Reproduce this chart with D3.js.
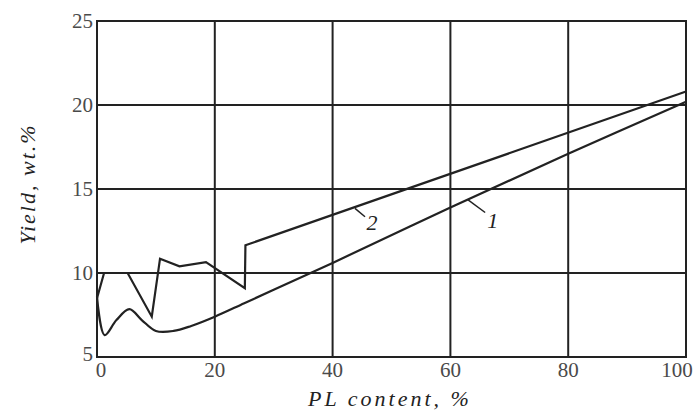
<!DOCTYPE html>
<html>
<head>
<meta charset="utf-8">
<script src="https://cdn.jsdelivr.net/npm/d3@7"></script>
<style>
  body { margin: 0; background: #fff; }
  svg text { font-family: "Liberation Serif", "Times New Roman", serif; }
</style>
</head>
<body>
<svg id="chart" width="697" height="418"></svg>
<script>
// curve 1 (smooth)
const curve1X = [0, 1.3, 3.3, 5.5, 7.6, 10, 13, 16, 20, 25, 30, 40, 60, 80, 100];
const curve1Y = [8.6, 6.3, 7.2, 7.85, 7.2, 6.55, 6.55, 6.85, 7.4, 8.2, 9.0, 10.6, 13.9, 17.1, 20.2];
// curve 2 (broken line)
const curve2X = [0, 1.2, 5.2, 9.3, 10.7, 14.0, 18.5, 25.1, 25.2, 100];
const curve2Y = [8.5, 10, 10, 7.4, 10.85, 10.4, 10.65, 9.1, 11.65, 20.8];

const xTicks = [0, 20, 40, 60, 80, 100];
const yTicks = [5, 10, 15, 20, 25];

// curve labels: [text, label x, label y, leader x1, y1, x2, y2]
const labels = [
  ["2", 46.7, 12.95, 43.8, 13.85, 45.5, 13.35],
  ["1", 67.2, 13.1, 63.0, 14.35, 65.9, 13.6]
];

const margin = { left: 97, right: 11, top: 21, bottom: 61 };
const width = 697, height = 418;
const svg = d3.select("#chart");

const x = d3.scaleLinear().domain([0, 100]).range([margin.left, width - margin.right]);
const y = d3.scaleLinear().domain([5, 25]).range([height - margin.bottom, margin.top]);

const ink = "#222";

// grid
const g = svg.append("g");
g.selectAll(".vgrid")
  .data(xTicks.slice(1, -1))
  .join("line")
  .attr("x1", (d) => x(d)).attr("x2", (d) => x(d))
  .attr("y1", y(5)).attr("y2", y(25))
  .attr("stroke", ink).attr("stroke-width", 2);
g.selectAll(".hgrid")
  .data(yTicks.slice(1, -1))
  .join("line")
  .attr("x1", x(0)).attr("x2", x(100))
  .attr("y1", (d) => y(d)).attr("y2", (d) => y(d))
  .attr("stroke", ink).attr("stroke-width", 2);
g.append("rect")
  .attr("x", x(0)).attr("y", y(25))
  .attr("width", x(100) - x(0)).attr("height", y(5) - y(25))
  .attr("fill", "none").attr("stroke", ink).attr("stroke-width", 2);

// tick labels
svg.selectAll(".xt")
  .data(xTicks)
  .join("text")
  .attr("x", (d, i) => x(d) + (i === 0 ? 4 : i === xTicks.length - 1 ? -9 : 0))
  .attr("y", y(5) + 20)
  .attr("text-anchor", "middle")
  .attr("font-size", 21)
  .attr("fill", "#4a4a4a")
  .text((d) => d);
svg.selectAll(".yt")
  .data(yTicks)
  .join("text")
  .attr("x", x(0) - 4)
  .attr("y", (d, i) => y(d) + 7 - (i === 0 ? 3 : 0))
  .attr("text-anchor", "end")
  .attr("font-size", 21)
  .attr("fill", "#4a4a4a")
  .text((d) => d);

// axis titles
svg.append("text")
  .attr("x", 390).attr("y", 406)
  .attr("text-anchor", "middle")
  .attr("font-size", 22).attr("font-style", "italic")
  .attr("letter-spacing", 3)
  .attr("fill", ink)
  .text("PL content, %");
svg.append("text")
  .attr("transform", "translate(35,184) rotate(-90)")
  .attr("text-anchor", "middle")
  .attr("font-size", 22).attr("font-style", "italic")
  .attr("letter-spacing", 2)
  .attr("fill", ink)
  .text("Yield, wt.%");

// curves
const line1 = d3.line()
  .x((d) => x(d[0])).y((d) => y(d[1]))
  .curve(d3.curveCatmullRom.alpha(0.5));
const line2 = d3.line()
  .x((d) => x(d[0])).y((d) => y(d[1]));

svg.append("path")
  .datum(d3.zip(curve1X, curve1Y))
  .attr("d", line1)
  .attr("fill", "none").attr("stroke", ink).attr("stroke-width", 2.2);
svg.append("path")
  .datum(d3.zip(curve2X, curve2Y))
  .attr("d", line2)
  .attr("fill", "none").attr("stroke", ink).attr("stroke-width", 2.2)
  .attr("stroke-linejoin", "miter");

// curve labels
labels.forEach((l) => {
  svg.append("line")
    .attr("x1", x(l[3])).attr("y1", y(l[4]))
    .attr("x2", x(l[5])).attr("y2", y(l[6]))
    .attr("stroke", ink).attr("stroke-width", 1.5);
  svg.append("text")
    .attr("x", x(l[1])).attr("y", y(l[2]) + 7)
    .attr("text-anchor", "middle")
    .attr("font-size", 22).attr("font-style", "italic")
    .attr("fill", ink)
    .text(l[0]);
});
</script>
</body>
</html>
